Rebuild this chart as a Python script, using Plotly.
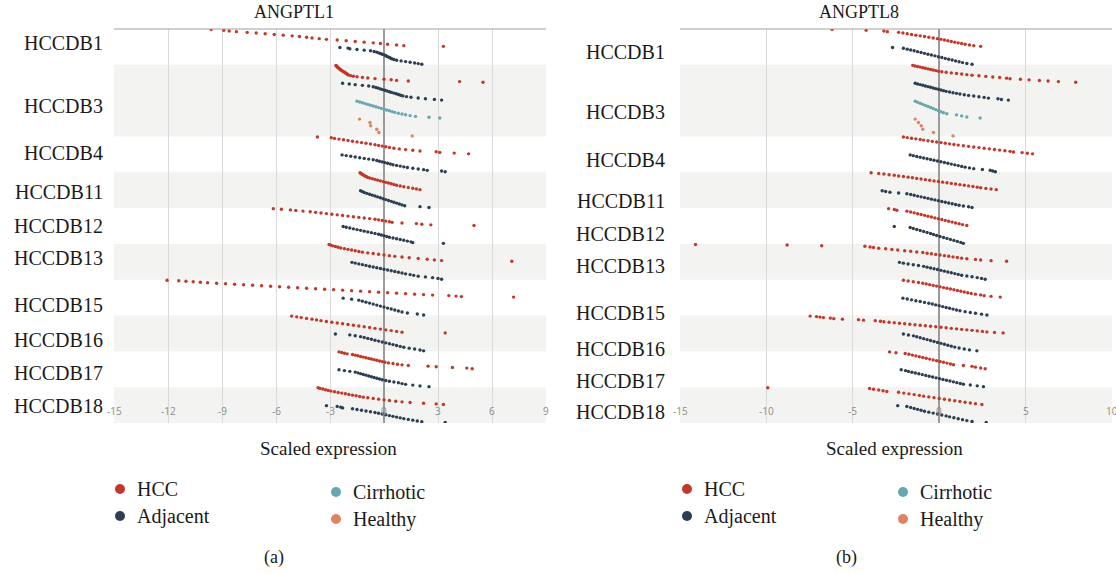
import plotly.graph_objects as go

W, H = 1116, 574

DATASETS = ["HCCDB1", "HCCDB3", "HCCDB4", "HCCDB11", "HCCDB12",
            "HCCDB13", "HCCDB15", "HCCDB16", "HCCDB17", "HCCDB18"]
GROUPS = ["HCC", "Adjacent", "Cirrhotic", "Healthy"]
GROUP_COLORS = ["#c0392b", "#2c3e50", "#68a7ad", "#de8462"]

L1_TICKS = [-15, -12, -9, -6, -3, 0, 3, 6, 9]
L8_TICKS = [-15, -10, -5, 0, 5, 10]

# ---------------- ANGPTL1 (scaled expression, sorted per group) ----------------
A1_HCCDB1_HCC = [-9.6, -8.9, -8.6, -8.2, -7.6, -7.1, -6.6, -6.1, -5.6, -5.1, -4.7, -4.3, -4.0,
                 -3.6, -3.2, -2.6, -2.1, -1.6, -1.1, -0.6, -0.2, 0.2, 0.7, 1.1, 3.3]
A1_HCCDB1_ADJ = [-2.45, -2.0, -1.9, -1.5, -1.1, -0.75, -0.55, -0.4, -0.3, -0.2, -0.1, 0.0, 0.08,
                 0.15, 0.22, 0.3, 0.37, 0.45, 0.55, 0.7, 0.95, 1.2, 1.45, 1.7, 1.9, 2.1]
A1_HCCDB3_HCC = [-2.67, -2.64, -2.61, -2.58, -2.55, -2.5, -2.46, -2.43, -2.38, -2.33, -2.28, -2.22,
                 -2.17, -2.12, -2.07, -2.03, -1.98, -1.85, -1.7, -1.5, -1.2, -0.9, -0.5, 0.0, 0.4,
                 0.7, 1.35, 4.2, 5.5]
A1_HCCDB3_ADJ = [-2.3, -1.93, -1.6, -1.2, -0.85, -0.6, -0.45, -0.32, -0.2, -0.08, 0.05, 0.17, 0.3,
                 0.42, 0.55, 0.68, 0.8, 0.92, 1.05, 1.25, 1.5, 1.9, 2.3, 2.8, 3.2]
A1_HCCDB3_CIR = [-1.5, -1.35, -1.2, -1.05, -0.9, -0.75, -0.6, -0.45, -0.3, -0.15, 0.0, 0.15, 0.3,
                 0.45, 0.6, 0.8, 1.0, 1.2, 1.45, 1.75, 2.5, 3.1]
A1_HCCDB3_HEA = [-1.36, -0.78, -0.74, -0.4, -0.28, 1.57]
A1_HCCDB4_HCC = [-3.7, -2.93, -2.75, -2.5, -2.25, -2.0, -1.75, -1.5, -1.25, -1.0, -0.75, -0.5, -0.3,
                 -0.1, 0.1, 0.3, 0.55, 0.85, 1.2, 1.6, 2.0, 2.9, 3.1, 3.9, 4.7]
A1_HCCDB4_ADJ = [-2.33, -2.1, -1.85, -1.6, -1.35, -1.1, -0.85, -0.6, -0.4, -0.25, -0.1, 0.05, 0.2,
                 0.35, 0.5, 0.7, 0.9, 1.1, 1.3, 1.6, 1.9, 2.2, 2.4, 3.2, 3.4]
A1_HCCDB11_HCC = [-1.33, -1.28, -1.22, -1.15, -1.08, -1.0, -0.92, -0.8, -0.65, -0.5, -0.35, -0.2,
                  -0.05, 0.1, 0.25, 0.4, 0.55, 0.7, 0.9, 1.1, 1.35, 1.6, 1.8, 2.0]
A1_HCCDB11_ADJ = [-1.3, -1.2, -1.1, -0.95, -0.8, -0.65, -0.5, -0.35, -0.2, -0.05, 0.1, 0.25, 0.4,
                  0.55, 0.7, 0.85, 1.0, 1.15, 2.0, 2.5]
A1_HCCDB12_HCC = [-6.15, -5.7, -5.2, -4.9, -4.5, -4.1, -3.8, -3.5, -3.2, -2.9, -2.6, -2.3, -2.0,
                  -1.7, -1.4, -1.1, -0.8, -0.5, -0.3, -0.1, 0.1, 0.3, 0.45, 1.0, 1.8, 2.1, 2.6, 5.0]
A1_HCCDB12_ADJ = [-2.27, -2.1, -1.9, -1.7, -1.5, -1.3, -1.1, -0.9, -0.7, -0.5, -0.3, -0.15, 0.0,
                  0.15, 0.3, 0.5, 0.7, 0.9, 1.1, 1.3, 1.5, 1.6, 3.3]
A1_HCCDB13_HCC = [-3.05, -2.95, -2.85, -2.7, -2.55, -2.4, -2.2, -2.0, -1.8, -1.6, -1.4, -1.2, -0.9,
                  -0.6, -0.3, 0.0, 0.3, 0.6, 1.0, 1.4, 1.9, 2.4, 2.8, 3.2, 7.1]
A1_HCCDB13_ADJ = [-1.78, -1.6, -1.4, -1.2, -1.0, -0.8, -0.6, -0.4, -0.2, 0.0, 0.2, 0.4, 0.6, 0.8,
                  1.0, 1.2, 1.45, 1.65, 1.9, 2.3, 2.7, 3.0, 3.2]
A1_HCCDB15_HCC = [-12.05, -11.4, -11.0, -10.6, -10.2, -9.8, -9.3, -8.8, -8.3, -7.8, -7.3, -6.8,
                  -6.3, -5.8, -5.3, -4.8, -4.3, -3.8, -3.3, -2.8, -2.3, -1.8, -1.3, -0.8, -0.3,
                  0.2, 0.7, 1.2, 1.7, 2.2, 2.7, 3.6, 4.0, 4.3, 7.2]
A1_HCCDB15_ADJ = [-2.27, -1.8, -1.4, -1.2, -1.0, -0.8, -0.6, -0.4, -0.2, 0.0, 0.2, 0.4, 0.6, 0.8,
                  1.0, 1.3, 1.85, 2.2]
A1_HCCDB16_HCC = [-5.13, -4.85, -4.6, -4.3, -4.0, -3.75, -3.5, -3.2, -2.9, -2.6, -2.3, -2.0, -1.7,
                  -1.4, -1.1, -0.8, -0.5, -0.2, 0.1, 0.4, 0.7, 1.0, 3.4]
A1_HCCDB16_ADJ = [-2.7, -1.9, -1.6, -1.3, -1.1, -0.9, -0.7, -0.5, -0.3, -0.1, 0.1, 0.3, 0.5, 0.7,
                  0.9, 1.1, 1.4, 1.7, 2.0, 2.2]
A1_HCCDB17_HCC = [-2.5, -2.35, -2.2, -2.05, -1.75, -1.6, -1.45, -1.3, -1.15, -1.0, -0.85, -0.7,
                  -0.55, -0.4, -0.25, -0.1, 0.05, 0.25, 0.5, 0.75, 1.0, 1.35, 2.45, 2.9, 3.8, 4.6, 4.9]
A1_HCCDB17_ADJ = [-2.5, -2.2, -1.9, -1.6, -1.45, -1.3, -1.15, -1.0, -0.85, -0.7, -0.55, -0.4,
                  -0.25, -0.1, 0.1, 0.3, 0.55, 0.8, 1.0, 1.2, 1.6, 2.0, 2.5]
A1_HCCDB18_HCC = [-3.66, -3.55, -3.4, -3.25, -3.1, -2.95, -2.75, -2.55, -2.35, -2.15, -1.95, -1.75,
                  -1.55, -1.35, -1.15, -0.9, -0.6, -0.3, 0.0, 0.3, 0.65, 1.0, 1.45, 2.2, 2.9, 3.3]
A1_HCCDB18_ADJ = [-3.2, -2.6, -2.4, -2.3, -1.75, -1.5, -1.25, -1.0, -0.75, -0.5, -0.3, -0.1, 0.1,
                  0.3, 0.5, 0.7, 0.9, 1.1, 1.35, 1.6, 1.85, 2.1, 3.4]

# ---------------- ANGPTL8 ----------------
A8_HCCDB1_HCC = [-6.2, -4.23, -3.2, -3.0, -2.35, -2.1, -1.85, -1.6, -1.35, -1.1, -0.85, -0.6,
                 -0.35, -0.1, 0.1, 0.3, 0.5, 0.7, 0.9, 1.1, 1.3, 1.5, 1.75, 2.0, 2.4]
A8_HCCDB1_ADJ = [-2.7, -2.07, -1.85, -1.65, -1.45, -1.25, -1.05, -0.85, -0.65, -0.45, -0.25, -0.05,
                 0.15, 0.35, 0.55, 0.75, 0.95, 1.15, 1.35, 1.6, 1.9]
A8_HCCDB3_HCC = [-1.53, -1.4, -1.25, -1.1, -0.95, -0.8, -0.65, -0.5, -0.35, -0.2, -0.05, 0.15, 0.4,
                 0.7, 1.0, 1.3, 1.6, 1.9, 2.3, 2.7, 3.1, 3.5, 3.9, 4.1, 4.7, 5.2, 5.8, 6.3, 6.9, 7.9]
A8_HCCDB3_ADJ = [-1.39, -1.25, -1.1, -0.95, -0.8, -0.65, -0.5, -0.35, -0.2, -0.05, 0.1, 0.25, 0.4,
                 0.6, 0.8, 1.0, 1.2, 1.45, 1.7, 2.0, 2.3, 2.6, 2.85, 3.4, 3.6, 4.0]
A8_HCCDB3_CIR = [-1.39, -1.25, -1.1, -0.95, -0.8, -0.65, -0.5, -0.35, -0.2, -0.05, 0.1, 0.25, 0.44,
                 1.0, 1.3, 1.6, 2.37]
A8_HCCDB3_HEA = [-1.39, -1.2, -1.04, -0.95, -0.33, 0.8]
A8_HCCDB4_HCC = [-2.07, -1.85, -1.6, -1.35, -1.1, -0.9, -0.65, -0.4, -0.15, 0.1, 0.35, 0.6, 0.85,
                 1.1, 1.4, 1.7, 2.0, 2.3, 2.6, 2.9, 3.2, 3.5, 3.8, 4.1, 4.3, 4.8, 5.1, 5.4]
A8_HCCDB4_ADJ = [-1.68, -1.5, -1.3, -1.1, -0.9, -0.7, -0.5, -0.3, -0.1, 0.1, 0.3, 0.5, 0.7, 0.9,
                 1.1, 1.3, 1.5, 1.75, 2.0, 2.5, 2.95, 3.1, 3.25]
A8_HCCDB11_HCC = [-3.94, -3.5, -3.2, -2.9, -2.6, -2.35, -2.07, -1.8, -1.55, -1.3, -1.05, -0.8,
                  -0.55, -0.3, -0.05, 0.2, 0.45, 0.7, 0.95, 1.2, 1.45, 1.7, 1.95, 2.2, 2.4, 2.7,
                  3.0, 3.3]
A8_HCCDB11_ADJ = [-3.3, -3.1, -2.85, -2.35, -1.87, -1.65, -1.45, -1.25, -1.05, -0.85, -0.65, -0.45,
                  -0.25, -0.05, 0.15, 0.35, 0.55, 0.75, 0.95, 1.15, 1.4, 1.7, 1.9]
A8_HCCDB12_HCC = [-2.93, -2.6, -2.45, -1.87, -1.65, -1.45, -1.25, -1.05, -0.85, -0.65, -0.45,
                  -0.25, -0.05, 0.15, 0.35, 0.55, 0.75, 0.95, 1.15, 1.35, 1.6]
A8_HCCDB12_ADJ = [-2.6, -1.68, -1.5, -1.3, -1.1, -0.9, -0.7, -0.5, -0.33, -0.15, 0.05, 0.25, 0.45,
                  0.65, 0.85, 1.05, 1.25, 1.4]
A8_HCCDB13_HCC = [-14.1, -8.8, -6.8, -4.3, -4.0, -3.8, -3.5, -3.1, -2.74, -2.4, -2.0, -1.65, -1.3,
                  -0.95, -0.7, -0.45, -0.2, 0.05, 0.3, 0.55, 0.8, 1.05, 1.3, 1.6, 2.1, 2.4, 3.0, 3.9]
A8_HCCDB13_ADJ = [-2.3, -2.07, -1.8, -1.5, -1.2, -0.9, -0.7, -0.5, -0.3, -0.1, 0.1, 0.3, 0.5, 0.7,
                  0.9, 1.1, 1.3, 1.6, 1.9, 2.2, 2.45, 2.66]
A8_HCCDB15_HCC = [-2.07, -1.8, -1.5, -1.2, -0.95, -0.75, -0.55, -0.35, -0.15, 0.05, 0.25, 0.45,
                  0.65, 0.85, 1.05, 1.25, 1.45, 1.65, 1.85, 2.1, 2.4, 2.6, 3.0, 3.53]
A8_HCCDB15_ADJ = [-2.1, -1.85, -1.6, -1.35, -1.1, -0.85, -0.6, -0.4, -0.2, 0.0, 0.2, 0.4, 0.6, 0.8,
                  1.0, 1.2, 1.5, 1.8, 2.1, 2.45, 2.76]
A8_HCCDB16_HCC = [-7.47, -7.1, -6.9, -6.7, -6.3, -6.1, -5.6, -4.67, -4.38, -3.7, -3.4, -3.2, -2.9,
                  -2.6, -2.3, -2.0, -1.7, -1.4, -1.1, -0.8, -0.5, -0.2, 0.1, 0.4, 0.7, 1.0, 1.3,
                  1.6, 1.9, 2.2, 2.5, 2.76, 3.2, 3.7]
A8_HCCDB16_ADJ = [-2.07, -1.78, -1.49, -1.3, -1.1, -0.9, -0.7, -0.5, -0.3, -0.1, 0.1, 0.3, 0.5,
                  0.7, 0.9, 1.15, 1.45, 1.75, 2.18]
A8_HCCDB17_HCC = [-2.87, -2.5, -1.97, -1.75, -1.55, -1.35, -1.15, -0.95, -0.75, -0.55, -0.35,
                  -0.15, 0.05, 0.25, 0.45, 0.65, 0.83, 1.4, 1.9, 2.1, 2.4, 2.66]
A8_HCCDB17_ADJ = [-2.2, -1.95, -1.78, -1.58, -1.38, -1.18, -0.98, -0.78, -0.58, -0.38, -0.18, 0.02,
                  0.22, 0.42, 0.62, 0.82, 1.02, 1.22, 1.4, 1.8, 2.2, 2.56]
A8_HCCDB18_HCC = [-9.92, -4.03, -3.8, -3.5, -3.25, -3.03, -2.35, -2.05, -1.75, -1.45, -1.15, -0.9,
                  -0.6, -0.3, 0.0, 0.3, 0.6, 0.9, 1.2, 1.5, 1.8, 2.1, 2.47]
A8_HCCDB18_ADJ = [-2.4, -1.87, -1.65, -1.45, -1.25, -1.05, -0.85, -0.6, -0.35, -0.1, 0.15, 0.4,
                  0.6, 0.85, 1.1, 1.35, 1.6, 1.9, 2.72]

PANEL_A1 = [
    ("HCCDB1", "HCC", A1_HCCDB1_HCC), ("HCCDB1", "Adjacent", A1_HCCDB1_ADJ),
    ("HCCDB3", "HCC", A1_HCCDB3_HCC), ("HCCDB3", "Adjacent", A1_HCCDB3_ADJ),
    ("HCCDB3", "Cirrhotic", A1_HCCDB3_CIR), ("HCCDB3", "Healthy", A1_HCCDB3_HEA),
    ("HCCDB4", "HCC", A1_HCCDB4_HCC), ("HCCDB4", "Adjacent", A1_HCCDB4_ADJ),
    ("HCCDB11", "HCC", A1_HCCDB11_HCC), ("HCCDB11", "Adjacent", A1_HCCDB11_ADJ),
    ("HCCDB12", "HCC", A1_HCCDB12_HCC), ("HCCDB12", "Adjacent", A1_HCCDB12_ADJ),
    ("HCCDB13", "HCC", A1_HCCDB13_HCC), ("HCCDB13", "Adjacent", A1_HCCDB13_ADJ),
    ("HCCDB15", "HCC", A1_HCCDB15_HCC), ("HCCDB15", "Adjacent", A1_HCCDB15_ADJ),
    ("HCCDB16", "HCC", A1_HCCDB16_HCC), ("HCCDB16", "Adjacent", A1_HCCDB16_ADJ),
    ("HCCDB17", "HCC", A1_HCCDB17_HCC), ("HCCDB17", "Adjacent", A1_HCCDB17_ADJ),
    ("HCCDB18", "HCC", A1_HCCDB18_HCC), ("HCCDB18", "Adjacent", A1_HCCDB18_ADJ),
]
PANEL_A8 = [
    ("HCCDB1", "HCC", A8_HCCDB1_HCC), ("HCCDB1", "Adjacent", A8_HCCDB1_ADJ),
    ("HCCDB3", "HCC", A8_HCCDB3_HCC), ("HCCDB3", "Adjacent", A8_HCCDB3_ADJ),
    ("HCCDB3", "Cirrhotic", A8_HCCDB3_CIR), ("HCCDB3", "Healthy", A8_HCCDB3_HEA),
    ("HCCDB4", "HCC", A8_HCCDB4_HCC), ("HCCDB4", "Adjacent", A8_HCCDB4_ADJ),
    ("HCCDB11", "HCC", A8_HCCDB11_HCC), ("HCCDB11", "Adjacent", A8_HCCDB11_ADJ),
    ("HCCDB12", "HCC", A8_HCCDB12_HCC), ("HCCDB12", "Adjacent", A8_HCCDB12_ADJ),
    ("HCCDB13", "HCC", A8_HCCDB13_HCC), ("HCCDB13", "Adjacent", A8_HCCDB13_ADJ),
    ("HCCDB15", "HCC", A8_HCCDB15_HCC), ("HCCDB15", "Adjacent", A8_HCCDB15_ADJ),
    ("HCCDB16", "HCC", A8_HCCDB16_HCC), ("HCCDB16", "Adjacent", A8_HCCDB16_ADJ),
    ("HCCDB17", "HCC", A8_HCCDB17_HCC), ("HCCDB17", "Adjacent", A8_HCCDB17_ADJ),
    ("HCCDB18", "HCC", A8_HCCDB18_HCC), ("HCCDB18", "Adjacent", A8_HCCDB18_ADJ),
]

# ---------------- layout constants (pixels) ----------------
SERIF = "Liberation Serif, Times New Roman, serif"
SANS = "Open Sans, sans-serif"
PLOT_TOP, PLOT_BOTTOM = 29, 423
PANELS = [
    dict(series=PANEL_A1, title="ANGPTL1", ticks=L1_TICKS, xr=[-15, 9], dom=(114, 546),
         title_x=294, label_right=105, label_y=[43, 106, 153, 192, 226, 258, 305, 340, 373, 406],
         leg_x=(120, 336), sub="(a)", sub_x=274),
    dict(series=PANEL_A8, title="ANGPTL8", ticks=L8_TICKS, xr=[-15, 10], dom=(680, 1112),
         title_x=859, label_right=667, label_y=[52, 112, 160, 201, 234, 266, 313, 349, 381, 412],
         leg_x=(687, 903), sub="(b)", sub_x=846),
]


def px_x(p):
    return p / W


def px_y(p):
    return 1 - p / H


fig = go.Figure()
shapes, annotations = [], []

for pi, panel in enumerate(PANELS):
    sfx = "" if pi == 0 else str(pi + 1)
    xref, yref = "x" + sfx, "y" + sfx
    series = panel["series"]
    nser = len(series)

    # points: y placed by rank inside each series' slot
    for si, (ds, grp, vals) in enumerate(series):
        v = sorted(vals)
        n = len(v)
        ys = [si + 0.03 + 0.94 * k / (n - 1) for k in range(n)]
        fig.add_trace(go.Scatter(
            x=v, y=ys, mode="markers", xaxis=xref, yaxis=yref, showlegend=False,
            marker=dict(size=3.4, color=GROUP_COLORS[GROUPS.index(grp)], line=dict(width=0)),
            hoverinfo="x+text", text=[f"{ds} {grp}"] * n))

    # dataset bands
    for di, ds in enumerate(DATASETS):
        idx = [i for i, s in enumerate(series) if s[0] == ds]
        y0, y1 = min(idx), max(idx) + 1
        if di % 2 == 1:
            shapes.append(dict(type="rect", xref=xref + " domain", yref=yref, x0=0, x1=1,
                               y0=y0, y1=y1, fillcolor="#f3f3f1", line=dict(width=0),
                               layer="below"))
        annotations.append(dict(text=ds, xref="paper", yref="paper",
                                x=px_x(panel["label_right"]), y=px_y(panel["label_y"][di]),
                                xanchor="right", yanchor="middle", showarrow=False,
                                font=dict(family=SERIF, size=20, color="#1a1a1a")))

    # top border
    shapes.append(dict(type="line", xref=xref + " domain", yref="paper", x0=0, x1=1,
                       y0=px_y(PLOT_TOP), y1=px_y(PLOT_TOP), line=dict(color="#a0a0a0", width=1)))

    # tick labels (drawn inside the plot area near the bottom)
    for t in panel["ticks"]:
        annotations.append(dict(text=str(t), xref=xref, yref="paper", x=t, y=px_y(411),
                                xanchor="center", yanchor="middle", showarrow=False,
                                font=dict(family=SANS, size=10, color="#8c8c8c")))

    # title / axis title / subfigure label
    annotations.append(dict(text=panel["title"], xref="paper", yref="paper",
                            x=px_x(panel["title_x"]), y=px_y(12), showarrow=False,
                            xanchor="center", yanchor="middle",
                            font=dict(family=SERIF, size=18, color="#1a1a1a")))
    cx = (panel["dom"][0] + panel["dom"][1]) / 2
    annotations.append(dict(text="Scaled expression", xref="paper", yref="paper",
                            x=px_x(cx - 2), y=px_y(448), showarrow=False,
                            xanchor="center", yanchor="middle",
                            font=dict(family=SERIF, size=19, color="#1a1a1a")))
    annotations.append(dict(text=panel["sub"], xref="paper", yref="paper",
                            x=px_x(panel["sub_x"]), y=px_y(557), showarrow=False,
                            xanchor="center", yanchor="middle",
                            font=dict(family=SERIF, size=18, color="#1a1a1a")))

    # legend (2 columns)
    leg_pos = [(panel["leg_x"][0], 489), (panel["leg_x"][0], 516),
               (panel["leg_x"][1], 492), (panel["leg_x"][1], 519)]
    for gi, grp in enumerate(GROUPS):
        lx, ly = leg_pos[gi]
        r = 5
        shapes.append(dict(type="circle", xref="paper", yref="paper",
                           x0=px_x(lx - r), x1=px_x(lx + r), y0=px_y(ly + r), y1=px_y(ly - r),
                           fillcolor=GROUP_COLORS[gi], line=dict(width=0)))
        annotations.append(dict(text=grp, xref="paper", yref="paper", x=px_x(lx + 15),
                                y=px_y(ly), xanchor="left", yanchor="middle", showarrow=False,
                                font=dict(family=SERIF, size=20, color="#1a1a1a")))

    xa = dict(domain=[px_x(panel["dom"][0]), px_x(panel["dom"][1])], range=panel["xr"],
              tickvals=panel["ticks"], showticklabels=False, ticks="",
              showgrid=True, gridcolor="#dadada", gridwidth=1,
              zeroline=True, zerolinecolor="#9a9a9a", zerolinewidth=1.5,
              showline=False, fixedrange=True, anchor=yref)
    ya = dict(domain=[px_y(PLOT_BOTTOM), px_y(PLOT_TOP)], range=[nser, 0],
              showticklabels=False, showgrid=False, zeroline=False, showline=False,
              ticks="", fixedrange=True, anchor=xref)
    fig.update_layout(**{"xaxis" + sfx: xa, "yaxis" + sfx: ya})

fig.update_layout(
    width=W, height=H, autosize=False,
    margin=dict(l=0, r=0, t=0, b=0),
    paper_bgcolor="white", plot_bgcolor="white",
    shapes=shapes, annotations=annotations, showlegend=False,
)

fig.write_html("out.html", config={"displayModeBar": False},
               post_script="document.body.style.margin='0px';document.body.style.padding='0px';")
